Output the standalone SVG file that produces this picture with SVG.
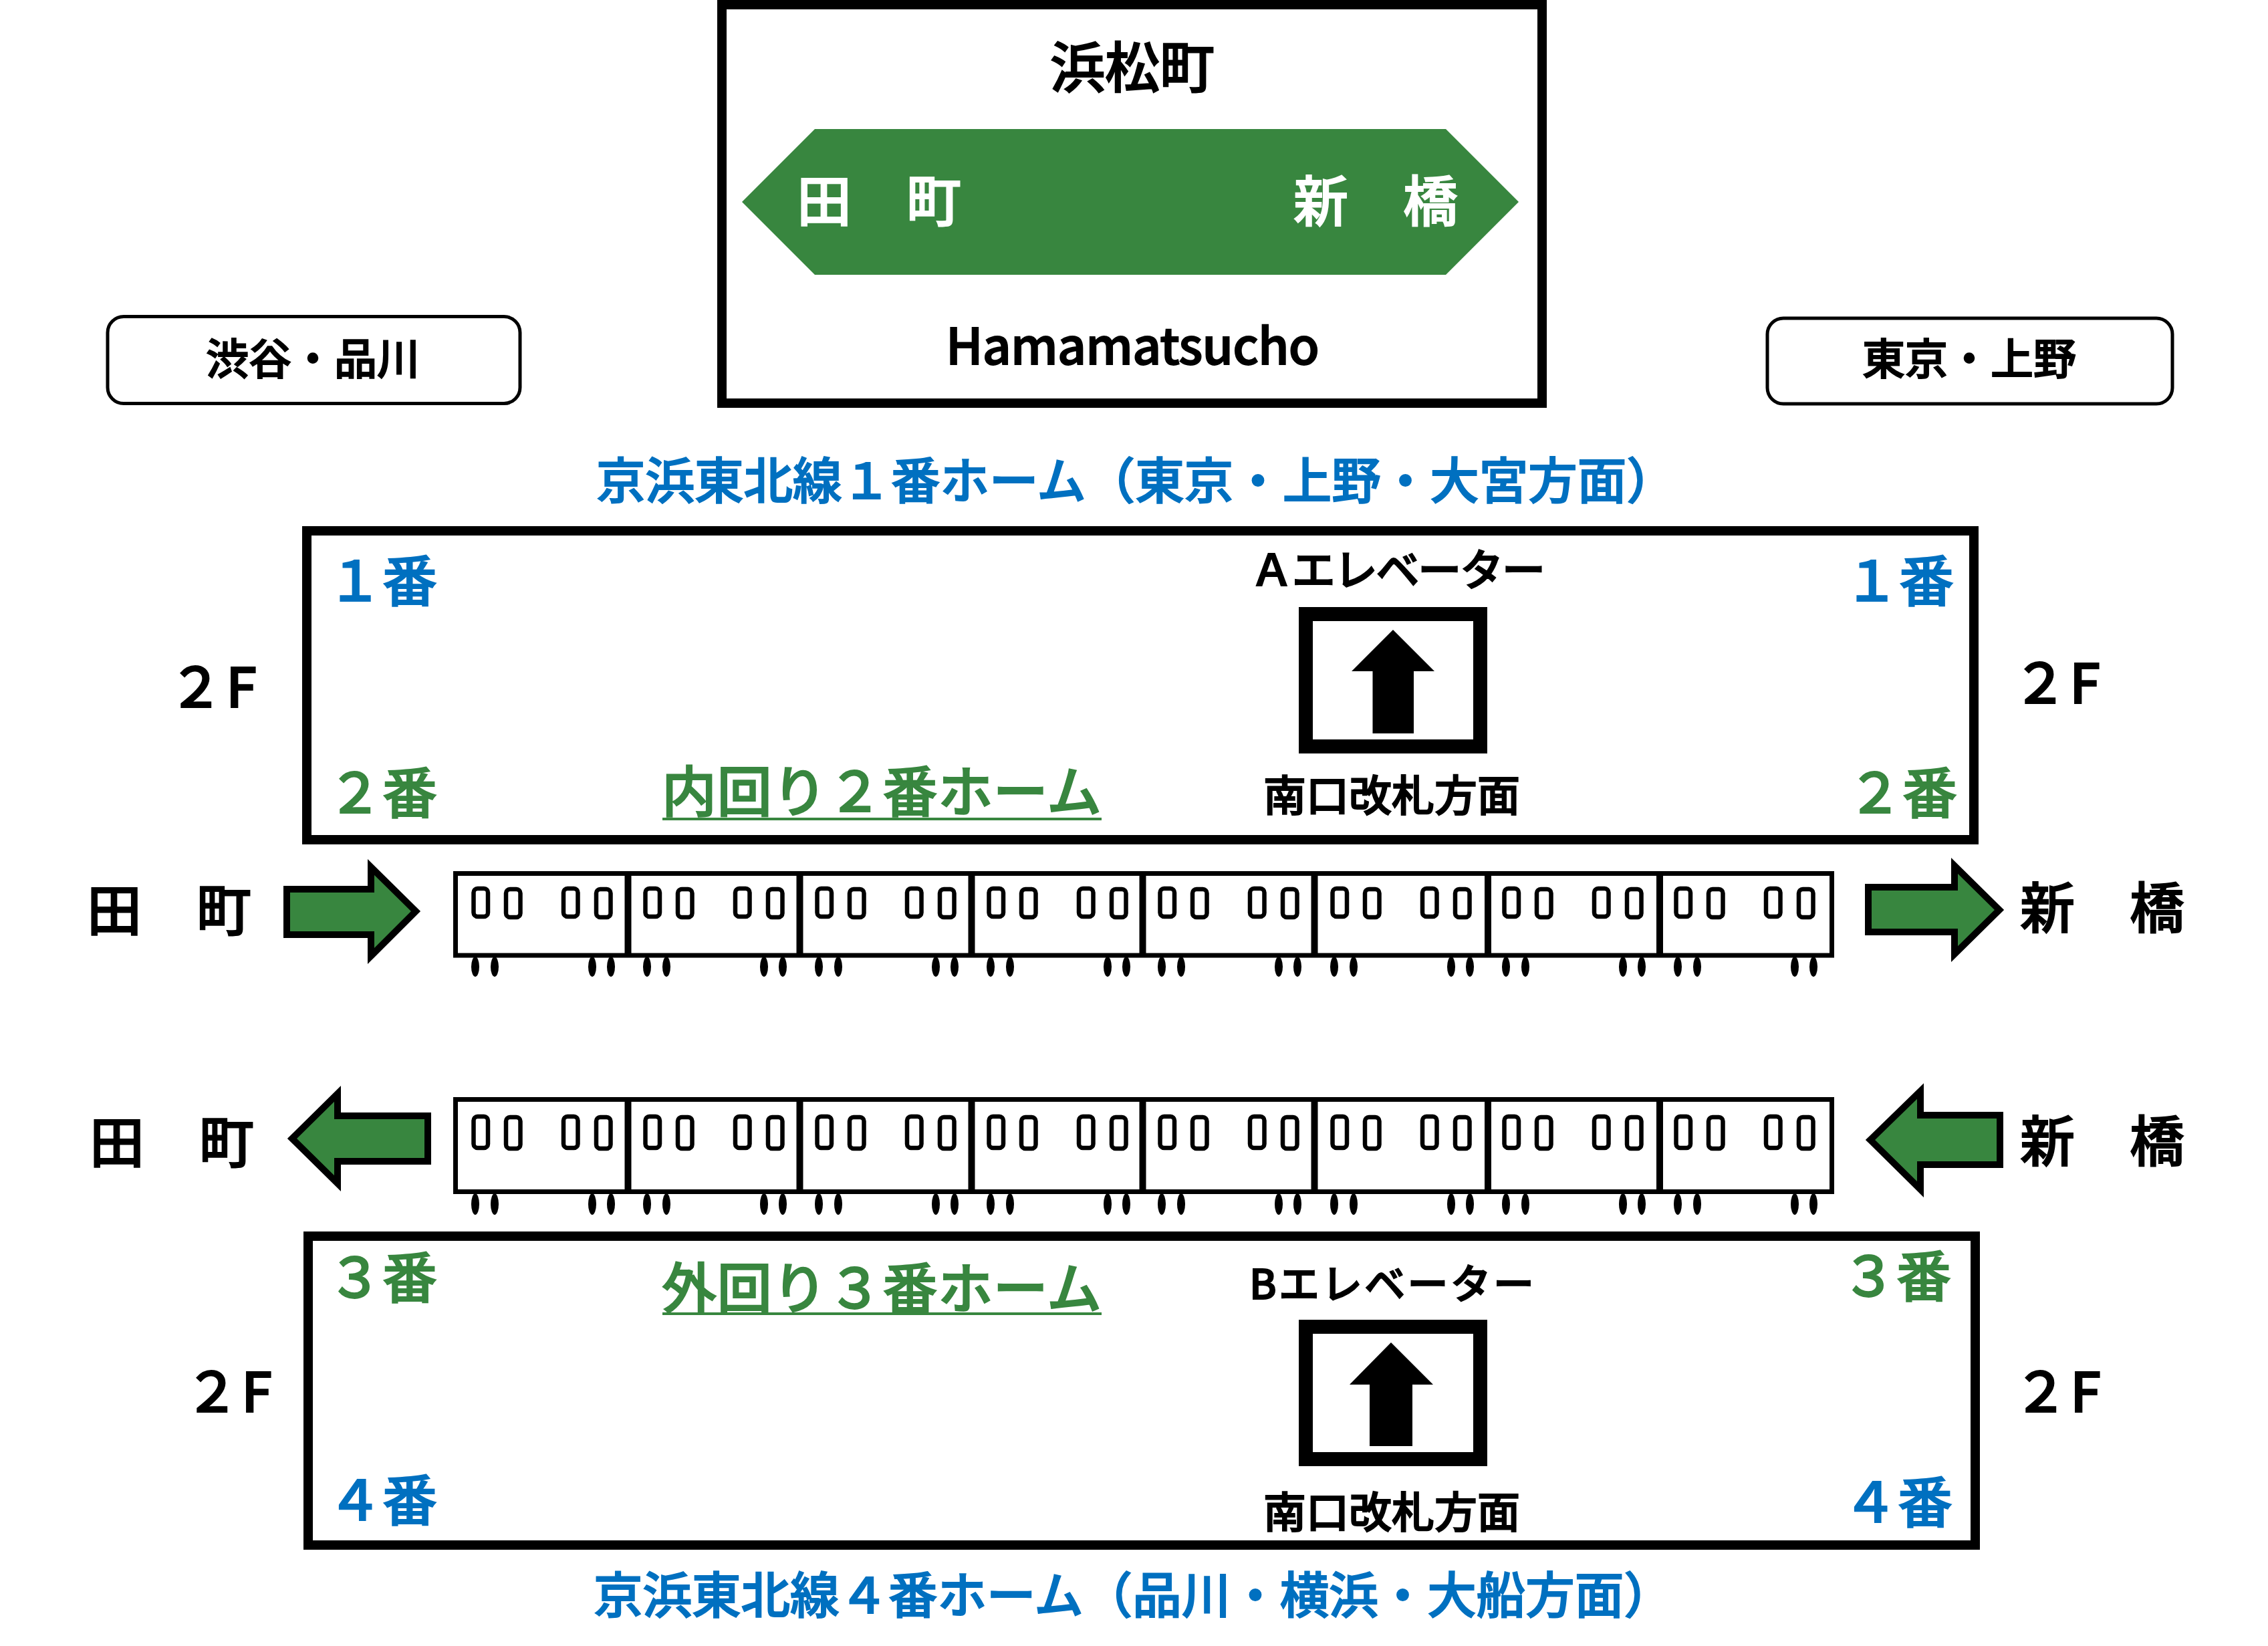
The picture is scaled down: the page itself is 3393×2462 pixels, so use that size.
<svg xmlns="http://www.w3.org/2000/svg" xmlns:xlink="http://www.w3.org/1999/xlink" width="3393" height="2462" viewBox="0 0 3393 2462">
<style>
text{font-family:"Noto Sans CJK JP","Liberation Sans",sans-serif;font-weight:500;fill:#000;stroke:#000;stroke-width:1.8}
.b{fill:#0070C0;stroke:#0070C0}.g{fill:#38863F;stroke:#38863F}.w{fill:#fff;stroke:#fff}
.f{font-size:82px}.s{font-size:64px}
.frame{fill:#fff;stroke:#000;stroke-width:14}
.pill{fill:#fff;stroke:#000;stroke-width:5}
.elev{fill:#fff;stroke:#000;stroke-width:21}
.arr{fill:#38863F;stroke:#000;stroke-width:10}
.win{fill:#fff;stroke:#000;stroke-width:6.5}
.body{fill:#fff;stroke:#000;stroke-width:7}
.div{stroke:#000;stroke-width:10}
.ul{stroke:#38863F;stroke-width:4}
</style>
<defs>
<g id="car-up">
<rect class="win" x="708.5" y="1329" width="21.5" height="42" rx="6"/>
<rect class="win" x="757" y="1330" width="21.5" height="42" rx="6"/>
<rect class="win" x="843" y="1329" width="21.5" height="42" rx="6"/>
<rect class="win" x="892" y="1330" width="21.5" height="42" rx="6"/>
<ellipse cx="711" cy="1446" rx="6" ry="15"/><ellipse cx="740" cy="1446" rx="6" ry="15"/>
<ellipse cx="886" cy="1446" rx="6" ry="15"/><ellipse cx="914" cy="1446" rx="6" ry="15"/>
</g>
<g id="car-dn">
<rect class="win" x="708.5" y="1670" width="21.5" height="47" rx="6"/>
<rect class="win" x="757" y="1671" width="21.5" height="47" rx="6"/>
<rect class="win" x="843" y="1670" width="21.5" height="47" rx="6"/>
<rect class="win" x="892" y="1671" width="21.5" height="47" rx="6"/>
<ellipse cx="711" cy="1801" rx="6" ry="16"/><ellipse cx="740" cy="1801" rx="6" ry="16"/>
<ellipse cx="886" cy="1801" rx="6" ry="16"/><ellipse cx="914" cy="1801" rx="6" ry="16"/>
</g>
</defs>
<rect width="3393" height="2462" fill="#fff"/>

<g id="station-sign">
<rect class="frame" x="1080" y="7" width="1227" height="596"/>
<polygon points="1110,302 1219,193 2163,193 2272,302 2163,411 1219,411" fill="#38863F"/>
<text class="f" x="1571" y="131">浜松町</text>
<text class="f w" x="1192" y="331">田　町</text>
<text class="f w" x="1935" y="331">新　橋</text>
<text x="1415" y="545" font-size="75" textLength="559" lengthAdjust="spacing">Hamamatsucho</text>
</g>
<g id="dest-left"><rect class="pill" x="161" y="473.500" width="617" height="130" rx="24"/><text class="s" x="308" y="560">渋谷・品川</text></g>
<g id="dest-right"><rect class="pill" x="2644" y="476" width="606" height="128" rx="24"/><text class="s" x="2786" y="560">東京・上野</text></g>

<text id="title-1" x="892" y="746" font-size="73.500" class="b">京浜東北線１番ホーム（東京・上野・大宮方面）</text>

<g id="platform-upper">
<rect class="frame" x="459" y="794" width="2494" height="462"/>
<text class="f b" x="490" y="899">１番</text>
<text class="f g" x="490" y="1216">２番</text>
<text class="f b" x="2759" y="899">１番</text>
<text class="f g" x="2764" y="1216">２番</text>
<text x="1870" y="876" font-size="65" textLength="442" lengthAdjust="spacing">Ａエレベーター</text>
<rect class="elev" x="1953.500" y="918.500" width="261" height="198"/>
<polygon points="2084,942 2022,1004 2053.500,1004 2053.500,1097 2115,1097 2115,1004 2146,1004"/>
<text x="1890" y="1213" font-size="64">南口改札方面</text>
<text class="f g" x="990" y="1214" textLength="658" lengthAdjust="spacing">内回り２番ホーム</text>
<line class="ul" x1="991" y1="1225" x2="1648" y2="1225"/>
</g>
<text class="f" id="floor-1" x="252" y="1058" letter-spacing="4">２F</text>
<text class="f" id="floor-2" x="3011" y="1052" letter-spacing="3">２F</text>

<g id="label-tamachi-1"><text class="f" x="130" y="1392">田　町</text></g>
<g id="label-shimbashi-1"><text class="f" x="3022" y="1388">新　橋</text></g>
<g id="label-tamachi-2"><text class="f" x="134" y="1739">田　町</text></g>
<g id="label-shimbashi-2"><text class="f" x="3022" y="1737">新　橋</text></g>

<g id="connectors">
<polygon class="arr" points="429,1330 555,1330 555,1297 622,1363 555,1430 555,1398 429,1398"/>
<polygon class="arr" points="2795,1327 2924,1327 2924,1295 2991,1361 2924,1427 2924,1394 2795,1394"/>
<polygon class="arr" points="640,1669 505,1669 505,1636 437,1703 505,1770 505,1737 640,1737"/>
<polygon class="arr" points="2992,1668 2873,1668 2873,1632 2798,1705 2873,1779 2873,1742 2992,1742"/>
</g>

<g id="train-upper">
<rect class="body" x="681.500" y="1306.500" width="2059" height="122.500"/>
<line class="div" x1="939.500" y1="1303" x2="939.500" y2="1432"/><line class="div" x1="1196.500" y1="1303" x2="1196.500" y2="1432"/><line class="div" x1="1453.500" y1="1303" x2="1453.500" y2="1432"/><line class="div" x1="1709.500" y1="1303" x2="1709.500" y2="1432"/><line class="div" x1="1966.500" y1="1303" x2="1966.500" y2="1432"/><line class="div" x1="2226" y1="1303" x2="2226" y2="1432"/><line class="div" x1="2483" y1="1303" x2="2483" y2="1432"/>
<use href="#car-up"/><use href="#car-up" x="257"/><use href="#car-up" x="514"/><use href="#car-up" x="771"/><use href="#car-up" x="1027"/><use href="#car-up" x="1285"/><use href="#car-up" x="1542"/><use href="#car-up" x="1799"/>
</g>
<g id="train-lower">
<rect class="body" x="681.500" y="1644.500" width="2059" height="138"/>
<line class="div" x1="939.500" y1="1641" x2="939.500" y2="1786"/><line class="div" x1="1196.500" y1="1641" x2="1196.500" y2="1786"/><line class="div" x1="1453.500" y1="1641" x2="1453.500" y2="1786"/><line class="div" x1="1709.500" y1="1641" x2="1709.500" y2="1786"/><line class="div" x1="1966.500" y1="1641" x2="1966.500" y2="1786"/><line class="div" x1="2226" y1="1641" x2="2226" y2="1786"/><line class="div" x1="2483" y1="1641" x2="2483" y2="1786"/>
<use href="#car-dn"/><use href="#car-dn" x="257"/><use href="#car-dn" x="514"/><use href="#car-dn" x="771"/><use href="#car-dn" x="1027"/><use href="#car-dn" x="1285"/><use href="#car-dn" x="1542"/><use href="#car-dn" x="1799"/>
</g>

<g id="platform-lower">
<rect class="frame" x="461" y="1849" width="2494" height="462"/>
<text class="f g" x="490" y="1941">３番</text>
<text class="f b" x="490" y="2274">４番</text>
<text class="f g" x="2755" y="1939">３番</text>
<text class="f b" x="2757" y="2277">４番</text>
<text x="1869" y="1943" font-size="61" textLength="426" lengthAdjust="spacing">Bエレベーター</text>
<rect class="elev" x="1953.500" y="1984.500" width="261" height="198"/>
<polygon points="2081,2008 2019,2071 2049,2071 2049,2163 2113,2163 2113,2071 2144,2071"/>
<text x="1890" y="2285" font-size="64">南口改札方面</text>
<text class="f g" x="990" y="1957" textLength="658" lengthAdjust="spacing">外回り３番ホーム</text>
<line class="ul" x1="991" y1="1965" x2="1648" y2="1965"/>
</g>
<text class="f" id="floor-3" x="276" y="2112" letter-spacing="3">２F</text>
<text class="f" id="floor-4" x="3012" y="2112" letter-spacing="3">２F</text>
<text id="title-2" x="888" y="2413" font-size="73.500" class="b">京浜東北線４番ホーム（品川・横浜・大船方面）</text>
</svg>
